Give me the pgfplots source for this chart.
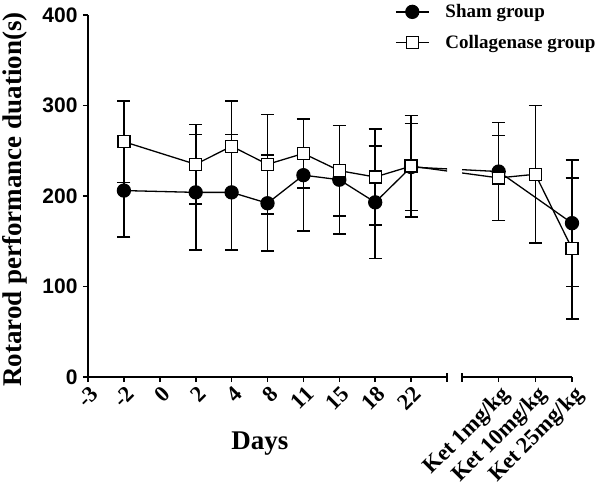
\documentclass[border=0pt]{standalone}
\usepackage{fontspec}
\setmainfont{Liberation Serif}
\setsansfont{Liberation Sans}
\usepackage{pgfplots}
\usepackage{pgfplotstable}
\pgfplotsset{compat=1.18}

% day values (category index, mean, error)
\pgfplotstableread{
x y e
1 206 51
3 204 64
4 204 64
5 192 53
6 223 62
7 218 60
8 193 62
9 232 48
}\shamL
\pgfplotstableread{
x y e
1 260 45
3 235 44
4 255 50
5 235 55
6 247 38
7 228 50
8 221 53
9 233 56
}\collL
% ketamine doses
\pgfplotstableread{
x y e
1 227 54
3 170 70
}\shamR
\pgfplotstableread{
x y e
1 220 47
2 224 76
3 142 78
}\collR

\pgfplotsset{
  brk/.style={
    scale only axis, height=362pt, ymin=0, ymax=400,
    axis x line*=bottom, x axis line style={-},
    axis line style={line width=1.6pt},
    tick style={line width=1.6pt, black},
    major tick length=5pt, tick align=outside,
    xticklabel style={rotate=45, anchor=north east, inner sep=1pt, yshift=-1.5pt,
      font=\bfseries\fontsize{22.5}{22.5}\selectfont},
    extra x tick style={tick align=center, major tick length=9pt},
    extra x tick labels={},
  },
  ebar/.style={black, only marks, mark=none, forget plot,
    error bars/.cd, y dir=both, y explicit,
    error bar style={line width=1.6pt, solid},
    error mark options={line width=1.6pt, mark size=6.5pt, rotate=90}},
  dline/.style={black, line width=1.3pt, mark=none, forget plot},
  shm/.style={black, line width=1.3pt, mark=*, mark size=6.5pt, mark options={fill=black}},
  col/.style={black, line width=1.3pt, mark=square*, mark size=6pt, mark options={fill=white}},
}

\begin{document}
\begin{tikzpicture}
\useasboundingbox (0,0) rectangle (600pt,485pt);

\begin{axis}[brk,
  at={(88pt,108pt)}, anchor=south west, width=359pt,
  xmin=0, xmax=10,
  axis y line*=left, y axis line style={-},
  xtick={0,...,9}, xticklabels={-3,-2,0,2,4,8,11,15,18,22},
  extra x ticks={10},
  ytick={0,100,200,300,400}, yticklabels={0,100,200,300,400},
  yticklabel style={font=\sffamily\bfseries\fontsize{21}{21}\selectfont, xshift=-2pt},
  xlabel={Days},
  xlabel style={at={(axis description cs:0.479,-0.185)}, anchor=center,
    font=\bfseries\fontsize{27}{27}\selectfont},
  ylabel={Rotarod performance duation(s)},
  ylabel style={at={(axis description cs:-0.203,0.49)}, anchor=center,
    font=\bfseries\fontsize{27}{27}\selectfont},
  legend style={at={(axis description cs:0.855,1.035)}, anchor=north west,
    draw=none, fill=none, inner sep=0pt, row sep=12pt,
    font=\bfseries\fontsize{19}{19}\selectfont, cells={anchor=west},
    /tikz/every odd column/.append style={column sep=14pt}},
  legend image code/.code={\draw[mark repeat=2, mark phase=2]
    plot coordinates {(0pt,0pt) (16.5pt,0pt) (33pt,0pt)};},
]
\addlegendimage{shm}
\addlegendentry{Sham group}
\addlegendimage{col}
\addlegendentry{Collagenase group}

\addplot[ebar] table[x=x, y=y, y error=e] {\shamL};
\addplot[ebar] table[x=x, y=y, y error=e] {\collL};
\addplot[dline] coordinates {(1,206) (3,204) (4,204) (5,192) (6,223) (7,218) (8,193) (9,232) (11.42,227)};
\addplot[dline] coordinates {(1,260) (3,235) (4,255) (5,235) (6,247) (7,228) (8,221) (9,233) (11.42,220)};
\addplot[shm, only marks, forget plot] table[x=x, y=y] {\shamL};
\addplot[col, only marks, forget plot] table[x=x, y=y] {\collL};
\end{axis}

% lines running into the right segment from day 22 (clipped at the break)
\begin{axis}[scale only axis, height=362pt, ymin=0, ymax=400,
  at={(462pt,108pt)}, anchor=south west, width=110pt,
  xmin=0, xmax=3, hide axis]
\addplot[dline] coordinates {(-1.39,232) (1,227)};
\addplot[dline] coordinates {(-1.39,233) (1,220)};
\end{axis}

\begin{axis}[brk,
  at={(462pt,108pt)}, anchor=south west, width=110pt,
  xmin=0, xmax=3, clip=false,
  axis y line=none,
  xtick={1,2,3}, xticklabels={Ket 1mg/kg,Ket 10mg/kg,Ket 25mg/kg},
  extra x ticks={0},
]
\addplot[ebar] table[x=x, y=y, y error=e] {\shamR};
\addplot[ebar] table[x=x, y=y, y error=e] {\collR};
\addplot[dline] coordinates {(1,227) (3,170)};
\addplot[dline] coordinates {(1,220) (2,224) (3,142)};
\addplot[shm, only marks, forget plot] table[x=x, y=y] {\shamR};
\addplot[col, only marks, forget plot] table[x=x, y=y] {\collR};
\end{axis}
\end{tikzpicture}
\end{document}
